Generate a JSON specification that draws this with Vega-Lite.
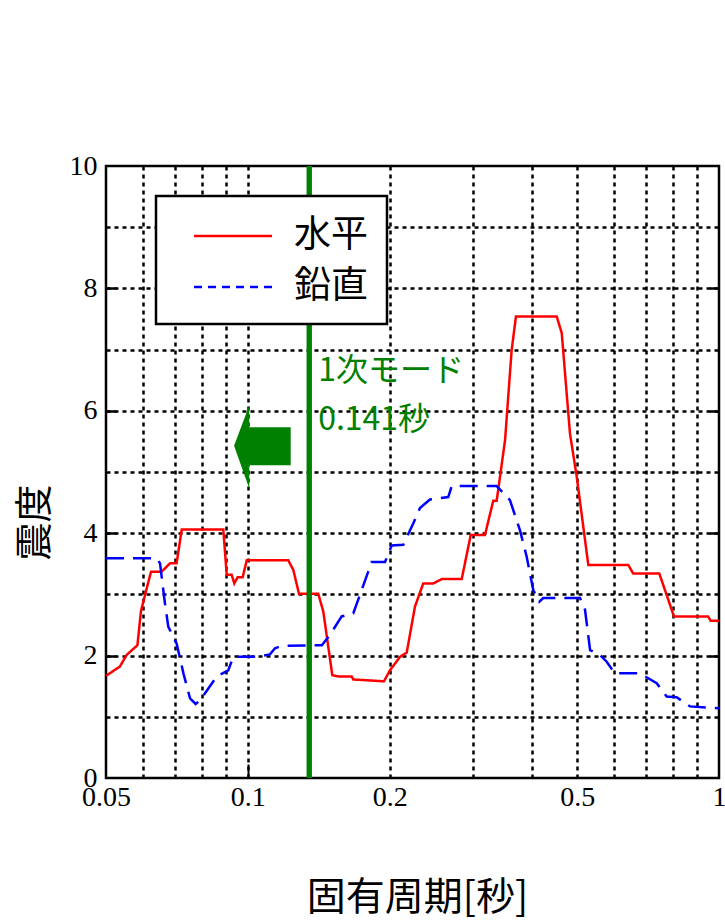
{
  "$schema": "https://vega.github.io/schema/vega-lite/v6.json",
  "width": 613,
  "height": 612,
  "autosize": {"type": "none"},
  "padding": {"left": 106, "top": 166, "right": 6, "bottom": 142},
  "background": "white",
  "config": {
    "view": {"stroke": "black", "strokeWidth": 2.5},
    "legend": {
      "orient": "none",
      "legendX": 50,
      "legendY": 30,
      "symbolType": "M-2,0H2",
      "symbolSize": 1521,
      "symbolStrokeWidth": 2.5,
      "labelFont": "Noto Sans CJK JP",
      "labelFontSize": 37,
      "labelColor": "black",
      "labelOffset": 40,
      "symbolOffset": 37,
      "padding": 19,
      "rowPadding": 12,
      "strokeColor": "black",
      "fillColor": "white",
      "labelLimit": 300
    }
  },
  "datasets": {
    "curves": [
      {"period": 0.05, "value": 1.67, "series": "水平"},
      {"period": 0.0535, "value": 1.82, "series": "水平"},
      {"period": 0.0553, "value": 2.01, "series": "水平"},
      {"period": 0.0583, "value": 2.17, "series": "水平"},
      {"period": 0.0593, "value": 2.72, "series": "水平"},
      {"period": 0.0605, "value": 2.99, "series": "水平"},
      {"period": 0.0623, "value": 3.37, "series": "水平"},
      {"period": 0.0656, "value": 3.37, "series": "水平"},
      {"period": 0.0684, "value": 3.51, "series": "水平"},
      {"period": 0.0706, "value": 3.51, "series": "水平"},
      {"period": 0.0724, "value": 4.06, "series": "水平"},
      {"period": 0.0887, "value": 4.06, "series": "水平"},
      {"period": 0.0902, "value": 3.32, "series": "水平"},
      {"period": 0.0924, "value": 3.32, "series": "水平"},
      {"period": 0.0936, "value": 3.18, "series": "水平"},
      {"period": 0.0951, "value": 3.28, "series": "水平"},
      {"period": 0.0975, "value": 3.28, "series": "水平"},
      {"period": 0.0995, "value": 3.56, "series": "水平"},
      {"period": 0.1218, "value": 3.56, "series": "水平"},
      {"period": 0.1249, "value": 3.4, "series": "水平"},
      {"period": 0.1284, "value": 3.01, "series": "水平"},
      {"period": 0.1411, "value": 3.01, "series": "水平"},
      {"period": 0.1446, "value": 2.72, "series": "水平"},
      {"period": 0.1511, "value": 1.68, "series": "水平"},
      {"period": 0.1556, "value": 1.66, "series": "水平"},
      {"period": 0.1661, "value": 1.66, "series": "水平"},
      {"period": 0.1674, "value": 1.61, "series": "水平"},
      {"period": 0.1945, "value": 1.58, "series": "水平"},
      {"period": 0.2003, "value": 1.76, "series": "水平"},
      {"period": 0.2104, "value": 1.98, "series": "水平"},
      {"period": 0.2174, "value": 2.05, "series": "水平"},
      {"period": 0.2263, "value": 2.8, "series": "水平"},
      {"period": 0.2357, "value": 3.18, "series": "水平"},
      {"period": 0.2476, "value": 3.18, "series": "水平"},
      {"period": 0.2579, "value": 3.25, "series": "水平"},
      {"period": 0.2844, "value": 3.25, "series": "水平"},
      {"period": 0.2972, "value": 3.97, "series": "水平"},
      {"period": 0.3186, "value": 3.97, "series": "水平"},
      {"period": 0.3318, "value": 4.53, "series": "水平"},
      {"period": 0.3374, "value": 4.53, "series": "水平"},
      {"period": 0.3515, "value": 5.52, "series": "水平"},
      {"period": 0.363, "value": 6.99, "series": "水平"},
      {"period": 0.3707, "value": 7.54, "series": "水平"},
      {"period": 0.4525, "value": 7.54, "series": "水平"},
      {"period": 0.4637, "value": 7.27, "series": "水平"},
      {"period": 0.4827, "value": 5.63, "series": "水平"},
      {"period": 0.499, "value": 4.92, "series": "水平"},
      {"period": 0.528, "value": 3.48, "series": "水平"},
      {"period": 0.642, "value": 3.48, "series": "水平"},
      {"period": 0.6576, "value": 3.34, "series": "水平"},
      {"period": 0.747, "value": 3.34, "series": "水平"},
      {"period": 0.8026, "value": 2.64, "series": "水平"},
      {"period": 0.948, "value": 2.64, "series": "水平"},
      {"period": 0.96, "value": 2.57, "series": "水平"},
      {"period": 1.0, "value": 2.57, "series": "水平"},
      {"period": 0.05, "value": 3.59, "series": "鉛直"},
      {"period": 0.064, "value": 3.59, "series": "鉛直"},
      {"period": 0.0651, "value": 3.51, "series": "鉛直"},
      {"period": 0.0667, "value": 2.85, "series": "鉛直"},
      {"period": 0.0678, "value": 2.47, "series": "鉛直"},
      {"period": 0.0706, "value": 2.2, "series": "鉛直"},
      {"period": 0.073, "value": 1.71, "series": "鉛直"},
      {"period": 0.0754, "value": 1.3, "series": "鉛直"},
      {"period": 0.0775, "value": 1.21, "series": "鉛直"},
      {"period": 0.0792, "value": 1.27, "series": "鉛直"},
      {"period": 0.0859, "value": 1.66, "series": "鉛直"},
      {"period": 0.0909, "value": 1.76, "series": "鉛直"},
      {"period": 0.0931, "value": 1.98, "series": "鉛直"},
      {"period": 0.1044, "value": 1.98, "series": "鉛直"},
      {"period": 0.1114, "value": 2.02, "series": "鉛直"},
      {"period": 0.1142, "value": 2.12, "series": "鉛直"},
      {"period": 0.118, "value": 2.16, "series": "鉛直"},
      {"period": 0.1436, "value": 2.17, "series": "鉛直"},
      {"period": 0.1494, "value": 2.34, "series": "鉛直"},
      {"period": 0.1582, "value": 2.64, "series": "鉛直"},
      {"period": 0.1674, "value": 2.69, "series": "鉛直"},
      {"period": 0.1744, "value": 3.07, "series": "鉛直"},
      {"period": 0.1832, "value": 3.53, "series": "鉛直"},
      {"period": 0.1955, "value": 3.53, "series": "鉛直"},
      {"period": 0.202, "value": 3.8, "series": "鉛直"},
      {"period": 0.2137, "value": 3.81, "series": "鉛直"},
      {"period": 0.2244, "value": 4.16, "series": "鉛直"},
      {"period": 0.2319, "value": 4.41, "series": "鉛直"},
      {"period": 0.2435, "value": 4.55, "series": "鉛直"},
      {"period": 0.2663, "value": 4.59, "series": "鉛直"},
      {"period": 0.2708, "value": 4.77, "series": "鉛直"},
      {"period": 0.3374, "value": 4.77, "series": "鉛直"},
      {"period": 0.36, "value": 4.54, "series": "鉛直"},
      {"period": 0.378, "value": 4.05, "series": "鉛直"},
      {"period": 0.3906, "value": 3.62, "series": "鉛直"},
      {"period": 0.4035, "value": 3.07, "series": "鉛直"},
      {"period": 0.4156, "value": 2.88, "series": "鉛直"},
      {"period": 0.4236, "value": 2.94, "series": "鉛直"},
      {"period": 0.507, "value": 2.94, "series": "鉛直"},
      {"period": 0.5195, "value": 2.75, "series": "鉛直"},
      {"period": 0.5326, "value": 2.09, "series": "鉛直"},
      {"period": 0.559, "value": 2.01, "series": "鉛直"},
      {"period": 0.5775, "value": 1.9, "series": "鉛直"},
      {"period": 0.6016, "value": 1.71, "series": "鉛直"},
      {"period": 0.6797, "value": 1.71, "series": "鉛直"},
      {"period": 0.7374, "value": 1.55, "series": "鉛直"},
      {"period": 0.7744, "value": 1.33, "series": "鉛直"},
      {"period": 0.813, "value": 1.32, "series": "鉛直"},
      {"period": 0.8676, "value": 1.17, "series": "鉛直"},
      {"period": 1.0, "value": 1.14, "series": "鉛直"}
    ],
    "mode": [{"period": 0.135}],
    "arrowHead": [
      {"ax": 0.0935, "ay": 5.43, "ay2": 5.43},
      {"ax": 0.1007, "ay": 6.09, "ay2": 4.73}
    ],
    "arrowShaft": [
      {"sx": 0.1005, "sx2": 0.1233, "sy": 5.11, "sy2": 5.73}
    ],
    "notes": [
      {"tx": 0.141, "ty": 6.49, "label": "1次モード"},
      {"tx": 0.141, "ty": 5.69, "label": "0.141秒"}
    ]
  },
  "resolve": {"axis": {"x": "independent", "y": "independent"}},
  "layer": [
    {
      "data": {"name": "mode"},
      "mark": {"type": "rule", "color": "#008000", "strokeWidth": 5},
      "encoding": {
        "x": {
          "field": "period", "type": "quantitative",
          "scale": {"type": "log", "domain": [0.05, 1], "nice": false},
          "axis": {
            "orient": "bottom",
            "values": [0.06, 0.07, 0.08, 0.09, 0.1, 0.2, 0.3, 0.4, 0.5, 0.6, 0.7, 0.8, 0.9],
            "grid": true, "gridColor": "black", "gridDash": [4, 4], "gridWidth": 2.5, "gridOpacity": 1,
            "labels": false, "ticks": false, "domain": false, "title": null
          }
        }
      }
    },
    {
      "data": {"name": "curves"},
      "mark": {"type": "line", "strokeWidth": 2.5},
      "encoding": {
        "x": {
          "field": "period", "type": "quantitative",
          "scale": {"type": "log", "domain": [0.05, 1], "nice": false},
          "axis": {
            "orient": "bottom",
            "values": [0.05, 0.1, 0.2, 0.5, 1],
            "format": "~g",
            "grid": false, "ticks": false, "domain": false,
            "labelFont": "Liberation Serif", "labelFontSize": 28, "labelColor": "black", "labelPadding": 5,
            "labelFlush": false, "labelOverlap": false,
            "title": "固有周期[秒]",
            "titleFont": "Noto Sans CJK JP", "titleFontSize": 39, "titleFontWeight": "normal", "titleColor": "black",
            "titleX": 311, "titleY": 119, "titleBaseline": "middle", "titleAlign": "center"
          }
        },
        "y": {
          "field": "value", "type": "quantitative",
          "scale": {"domain": [0, 10], "nice": false},
          "axis": {
            "orient": "left",
            "values": [0, 2, 4, 6, 8, 10],
            "grid": false, "ticks": false, "domain": false,
            "labelFont": "Liberation Serif", "labelFontSize": 28, "labelColor": "black", "labelPadding": 9,
            "labelFlush": false, "labelOverlap": false,
            "title": "震度",
            "titleFont": "Noto Sans CJK JP", "titleFontSize": 38, "titleFontWeight": "normal", "titleColor": "black",
            "titleAngle": 270, "titleX": -71, "titleY": 356, "titleBaseline": "middle", "titleAlign": "center"
          }
        },
        "color": {
          "field": "series", "type": "nominal",
          "scale": {"domain": ["水平", "鉛直"], "range": ["#ff0000", "#0000ff"]},
          "legend": {
            "title": null,
            "encode": {
              "symbols": {"update": {"strokeDash": {"signal": "datum.value === '鉛直' ? [8, 6] : [1, 0]"}}},
              "legend": {"update": {"strokeWidth": {"value": 2.5}}}
            }
          }
        },
        "strokeDash": {
          "condition": {"test": "datum.series === '鉛直'", "value": [18, 9]},
          "value": [1, 0]
        }
      }
    },
    {
      "data": {"name": "mode"},
      "mark": {"type": "rule", "color": "#008000", "strokeWidth": 5},
      "encoding": {
        "x": {
          "field": "period", "type": "quantitative",
          "scale": {"type": "log", "domain": [0.05, 1], "nice": false},
          "axis": null
        }
      }
    },
    {
      "data": {"name": "arrowHead"},
      "mark": {"type": "area", "color": "#008000", "opacity": 1},
      "encoding": {
        "x": {
          "field": "ax", "type": "quantitative",
          "scale": {"type": "log", "domain": [0.05, 1], "nice": false},
          "axis": {
            "orient": "bottom", "values": [0.1],
            "ticks": true, "tickSize": -14, "tickWidth": 2, "tickColor": "black",
            "labels": false, "grid": false, "domain": false, "title": null
          }
        },
        "y": {
          "field": "ay", "type": "quantitative",
          "scale": {"domain": [0, 10], "nice": false},
          "axis": {
            "orient": "left", "values": [1, 2, 3, 4, 5, 6, 7, 8, 9],
            "grid": true, "gridColor": "black", "gridDash": [4, 4], "gridWidth": 2.5, "gridOpacity": 1,
            "labels": false, "ticks": false, "domain": false, "title": null
          }
        },
        "y2": {"field": "ay2"}
      }
    },
    {
      "data": {"name": "arrowShaft"},
      "mark": {"type": "rect", "color": "#008000", "opacity": 1},
      "encoding": {
        "x": {
          "field": "sx", "type": "quantitative",
          "scale": {"type": "log", "domain": [0.05, 1], "nice": false},
          "axis": null
        },
        "x2": {"field": "sx2"},
        "y": {
          "field": "sy", "type": "quantitative",
          "scale": {"domain": [0, 10], "nice": false},
          "axis": {
            "orient": "left", "values": [2, 4, 6, 8],
            "ticks": true, "tickSize": -10, "tickWidth": 2.5, "tickColor": "black",
            "labels": false, "grid": false, "domain": false, "title": null
          }
        },
        "y2": {"field": "sy2"}
      }
    },
    {
      "data": {"name": "notes"},
      "mark": {"type": "text", "color": "#008000", "font": "Noto Sans CJK JP", "fontSize": 32, "align": "left", "baseline": "alphabetic"},
      "encoding": {
        "x": {
          "field": "tx", "type": "quantitative",
          "scale": {"type": "log", "domain": [0.05, 1], "nice": false},
          "axis": null
        },
        "y": {
          "field": "ty", "type": "quantitative",
          "scale": {"domain": [0, 10], "nice": false},
          "axis": {
            "orient": "right", "values": [2, 4, 6, 8],
            "ticks": true, "tickSize": -10, "tickWidth": 2.5, "tickColor": "black",
            "labels": false, "grid": false, "domain": false, "title": null
          }
        },
        "text": {"field": "label", "type": "nominal"}
      }
    }
  ]
}
